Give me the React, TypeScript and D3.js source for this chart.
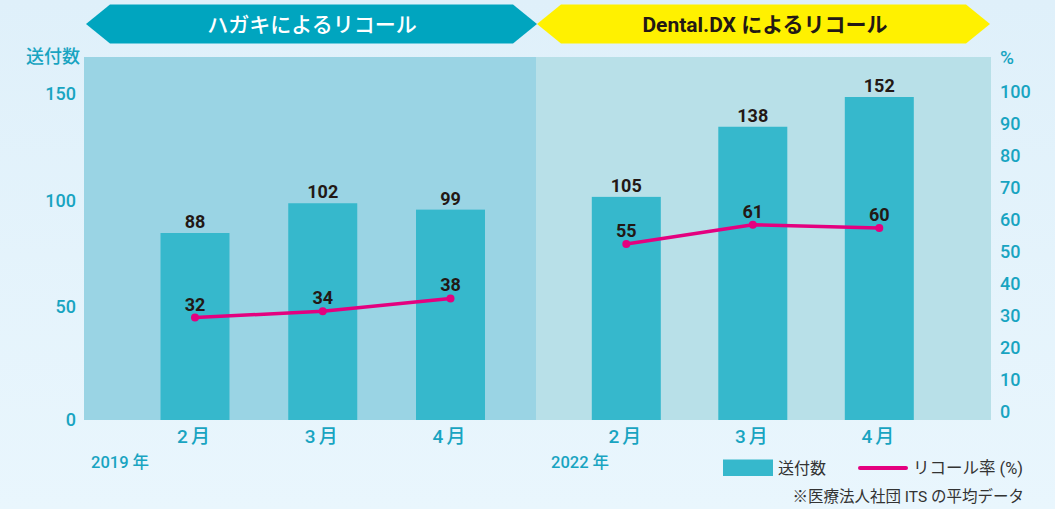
import React from "react";
import * as d3 from "d3";

const months = ["2月", "3月", "4月"];
const yearLabels = ["2019 年", "2022 年"];
const bannerLabels = ["ハガキによるリコール", "Dental.DX によるリコール"];
const sent2019 = [88, 102, 99];
const rate2019 = [32, 34, 38];
const sent2022 = [105, 138, 152];
const rate2022 = [55, 61, 60];
const leftTicks = [0, 50, 100, 150];
const rightTicks = [0, 10, 20, 30, 40, 50, 60, 70, 80, 90, 100];
const legendBar = "送付数";
const legendLine = "リコール率 (%)";
const leftTitle = "送付数";
const rightTitle = "%";
const footnote = "※医療法人社団 ITS の平均データ";

const W = 1055;
const H = 509;
const FONT = "Roboto, 'Noto Sans CJK JP', sans-serif";
const TEAL_TEXT = "#18a4c1";
const BAR = "#36b8cc";
const PINK = "#e4007f";
const DARK = "#231815";

export default function App() {
  const yL = d3.scaleLinear().domain([0, 150]).range([420, 101.25]);
  const yR = d3.scaleLinear().domain([0, 100]).range([420, 100]);
  const xLeft = d3.scalePoint<string>().domain(months).range([195, 450.5]);
  const xRight = d3.scalePoint<string>().domain(months).range([626.3, 879.3]);
  const barW = 69;

  const panels = [
    { x: xLeft, sent: sent2019, rate: rate2019, year: yearLabels[0], yearX: 91, bg: "#9ad4e4", x0: 84, x1: 536 },
    { x: xRight, sent: sent2022, rate: rate2022, year: yearLabels[1], yearX: 551, bg: "#b8e0e8", x0: 536, x1: 991 },
  ];

  const leftBanner = [
    [86, 24], [110, 4.5], [513, 4.5], [537, 24], [513, 43.5], [110, 43.5],
  ];
  const rightBanner = [
    [537, 24], [561, 4.5], [966, 4.5], [990, 24], [966, 43.5], [561, 43.5],
  ];
  const poly = (pts: number[][]) => pts.map((p) => p.join(",")).join(" ");

  return (
    <svg
      width={W}
      height={H}
      style={{ position: "absolute", left: 0, top: 0, fontFamily: FONT }}
    >
      <defs>
        <linearGradient id="bg" x1="0" y1="0" x2="0" y2="1">
          <stop offset="0" stopColor="#dff0fa" />
          <stop offset="1" stopColor="#e9f6fd" />
        </linearGradient>
      </defs>
      <rect x={0} y={0} width={W} height={H} fill="url(#bg)" />

      {/* banners */}
      <polygon points={poly(leftBanner)} fill="#00a5bf" />
      <polygon points={poly(rightBanner)} fill="#fff100" />
      <text x={312} y={31.5} textAnchor="middle" fontSize={21} fontWeight={500} fill="#ffffff">
        {bannerLabels[0]}
      </text>
      <text x={765} y={31.5} textAnchor="middle" fontSize={21} fontWeight={700} fill={DARK}>
        {bannerLabels[1]}
      </text>

      {/* panels */}
      {panels.map((p, pi) => (
        <rect key={"bg" + pi} x={p.x0} y={57} width={p.x1 - p.x0} height={yL(0) - 57} fill={p.bg} />
      ))}

      {/* bars */}
      {panels.map((p, pi) =>
        p.sent.map((v, i) => (
          <rect
            key={"b" + pi + i}
            x={(p.x(months[i]) as number) - barW / 2}
            y={yL(v)}
            width={barW}
            height={yL(0) - yL(v)}
            fill={BAR}
          />
        ))
      )}

      {/* bar value labels */}
      {panels.map((p, pi) =>
        p.sent.map((v, i) => (
          <text
            key={"bl" + pi + i}
            x={p.x(months[i]) as number}
            y={yL(v) - 5}
            textAnchor="middle"
            fontSize={18}
            fontWeight={700}
            fill={DARK}
          >
            {v}
          </text>
        ))
      )}

      {/* lines */}
      {panels.map((p, pi) => {
        const gen = d3
          .line<number>()
          .x((_, i) => p.x(months[i]) as number)
          .y((d) => yR(d));
        return (
          <g key={"l" + pi}>
            <path d={gen(p.rate) || ""} fill="none" stroke={PINK} strokeWidth={3.5} strokeLinejoin="round" />
            {p.rate.map((v, i) => (
              <circle key={i} cx={p.x(months[i]) as number} cy={yR(v)} r={4} fill={PINK} />
            ))}
            {p.rate.map((v, i) => (
              <text
                key={"t" + i}
                x={p.x(months[i]) as number}
                y={yR(v) - 7}
                textAnchor="middle"
                fontSize={18}
                fontWeight={700}
                fill={DARK}
              >
                {v}
              </text>
            ))}
          </g>
        );
      })}

      {/* month + year labels */}
      {panels.map((p, pi) => (
        <g key={"m" + pi}>
          {months.map((m, i) => (
            <text
              key={i}
              x={p.x(m) as number}
              y={442.5}
              textAnchor="middle"
              fontSize={19}
              fontWeight={500}
              letterSpacing={3}
              fill={TEAL_TEXT}
            >
              {m}
            </text>
          ))}
          <text x={p.yearX} y={468} fontSize={16.5} fontWeight={500} fill={TEAL_TEXT}>
            {p.year}
          </text>
        </g>
      ))}

      {/* left axis */}
      <text x={80} y={63} textAnchor="end" fontSize={18} fontWeight={500} fill={TEAL_TEXT}>
        {leftTitle}
      </text>
      {leftTicks.map((t) => (
        <text key={t} x={76} y={t === 0 ? yL(t) + 6 : yL(t) - 1} textAnchor="end" fontSize={18} fontWeight={500} fill={TEAL_TEXT}>
          {t}
        </text>
      ))}

      {/* right axis */}
      <text x={1000} y={64} fontSize={19} fontWeight={500} fill={TEAL_TEXT}>
        {rightTitle}
      </text>
      {rightTicks.map((t) => (
        <text key={t} x={1000} y={yR(t) - 2} fontSize={18} fontWeight={500} fill={TEAL_TEXT}>
          {t}
        </text>
      ))}

      {/* legend */}
      <rect x={723} y={459.5} width={50} height={16.5} fill={BAR} />
      <text x={778} y={473.5} fontSize={16} fill="#333">
        {legendBar}
      </text>
      <line x1={860} x2={906} y1={468} y2={468} stroke={PINK} strokeWidth={4} strokeLinecap="round" />
      <text x={913} y={473.5} fontSize={16.5} fill="#333">
        {legendLine}
      </text>
      <text x={1024} y={502} textAnchor="end" fontSize={15.5} fill="#333">
        {footnote}
      </text>
    </svg>
  );
}
